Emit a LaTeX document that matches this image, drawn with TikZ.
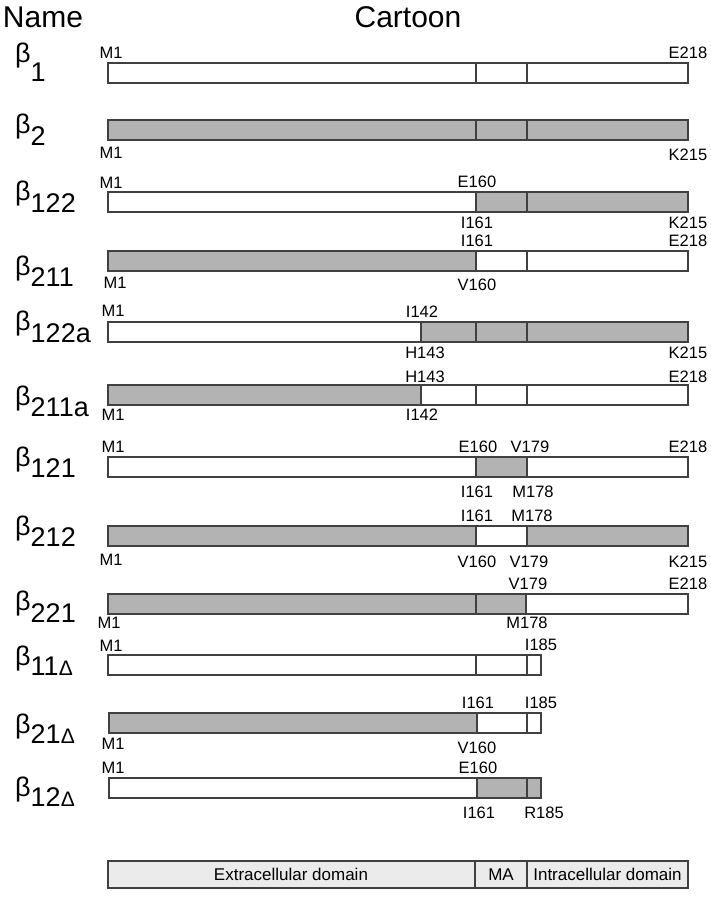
\documentclass[tikz,border=0pt]{standalone}
\usepackage{fontspec}
\setmainfont{Liberation Sans}
\definecolor{barg}{HTML}{B3B3B3}
\definecolor{legg}{HTML}{EBEBEB}
\definecolor{edgec}{HTML}{404040}
\tikzset{
  seg/.style={draw=edgec, line width=1.1pt},
  lab/.style={font=\fontsize{16.5}{18}\selectfont, inner sep=0pt, text=black},
  title/.style={font=\fontsize{30}{32}\selectfont, inner sep=0pt, anchor=base},
  nm/.style={font=\fontsize{27}{30}\selectfont, inner sep=0pt, anchor=base west},
  leg/.style={font=\fontsize{17}{19}\selectfont, inner sep=0pt}
}
\newcommand\sgW[3]{\filldraw[seg, fill=white] (#1,#3) rectangle (#2,#3+20);}
\newcommand\sgG[3]{\filldraw[seg, fill=barg] (#1,#3) rectangle (#2,#3+20);}
\newcommand\dl{{\fontsize{21}{22}\selectfont Δ}}
% name: id, beta baseline, drop of subscript, subscript
\newcommand\nmlab[4]{\node[nm] (#1) at (15,#2) {β\raisebox{-#3pt}{#4}};}
\begin{document}
\begin{tikzpicture}[x=1pt,y=-1pt]
\useasboundingbox (0,0) rectangle (710,899);

\node[title] (tname) at (43,28) {Name};
\node[title] (tcart) at (408,28) {Cartoon};

% beta1
\nmlab{n1}{63}{19}{1}
\sgW{108}{476}{63}\sgW{476}{527}{63}\sgW{527}{688}{63}
\node[lab] (a1) at (111,53) {M1};
\node[lab] (b1) at (688,53) {E218};

% beta2
\nmlab{n2}{133}{12}{2}
\sgG{108}{476}{120}\sgG{476}{527}{120}\sgG{527}{688}{120}
\node[lab] (a2) at (111,153) {M1};
\node[lab] (b2) at (688,155) {K215};

% beta122
\nmlab{n3}{200}{12}{122}
\sgW{108}{476}{192}\sgG{476}{527}{192}\sgG{527}{688}{192}
\node[lab] (a3) at (111,183) {M1};
\node[lab] (b3) at (477,182) {E160};
\node[lab] (c3) at (477,223) {I161};
\node[lab] (d3) at (688,223) {K215};

% beta211
\nmlab{n4}{275}{11}{211}
\sgG{108}{476}{251}\sgW{476}{527}{251}\sgW{527}{688}{251}
\node[lab] (a4) at (477,241) {I161};
\node[lab] (b4) at (688,241) {E218};
\node[lab] (c4) at (115,283) {M1};
\node[lab] (d4) at (477,285) {V160};

% beta122a
\nmlab{n5}{330}{12}{122a}
\sgW{108}{421}{322}\sgG{421}{476}{322}\sgG{476}{527}{322}\sgG{527}{688}{322}
\node[lab] (a5) at (113,311) {M1};
\node[lab] (b5) at (422,312) {I142};
\node[lab] (c5) at (425,353) {H143};
\node[lab] (d5) at (688,353) {K215};

% beta211a
\nmlab{n6}{405}{11}{211a}
\sgG{108}{421}{385}\sgW{421}{476}{385}\sgW{476}{527}{385}\sgW{527}{688}{385}
\node[lab] (a6) at (425,377) {H143};
\node[lab] (b6) at (688,377) {E218};
\node[lab] (c6) at (113,415) {M1};
\node[lab] (d6) at (422,415) {I142};

% beta121
\nmlab{n7}{466}{11}{121}
\sgW{108}{476}{457}\sgG{476}{527}{457}\sgW{527}{688}{457}
\node[lab] (a7) at (113,447) {M1};
\node[lab] (b7) at (478,447) {E160};
\node[lab] (c7) at (530,447) {V179};
\node[lab] (d7) at (688,447) {E218};
\node[lab] (e7) at (477,492) {I161};
\node[lab] (f7) at (533,492) {M178};

% beta212
\nmlab{n8}{535}{11}{212}
\sgG{108}{476}{526}\sgW{476}{527}{526}\sgG{527}{688}{526}
\node[lab] (a8) at (477,516) {I161};
\node[lab] (b8) at (532,516) {M178};
\node[lab] (c8) at (111,560) {M1};
\node[lab] (d8) at (477,562) {V160};
\node[lab] (e8) at (529,562) {V179};
\node[lab] (f8) at (688,562) {K215};

% beta221
\nmlab{n9}{610}{12}{221}
\sgG{108}{476}{594}\sgG{476}{526}{594}\sgW{526}{688}{594}
\node[lab] (a9) at (528,584) {V179};
\node[lab] (b9) at (688,584) {E218};
\node[lab] (c9) at (109,623) {M1};
\node[lab] (d9) at (527,623) {M178};

% beta11Delta
\nmlab{n10}{665}{10}{11\dl}
\sgW{108}{476}{655}\sgW{476}{527}{655}\sgW{527}{541}{655}
\node[lab] (a10) at (111,646) {M1};
\node[lab] (b10) at (541,645) {I185};

% beta21Delta
\nmlab{n11}{733}{10}{21\dl}
\sgG{109}{477}{713}\sgW{477}{527}{713}\sgW{527}{541}{713}
\node[lab] (a11) at (478,703) {I161};
\node[lab] (b11) at (541,703) {I185};
\node[lab] (c11) at (113,744) {M1};
\node[lab] (d11) at (477,748) {V160};

% beta12Delta
\nmlab{n12}{796}{10}{12\dl}
\sgW{109}{477}{778}\sgG{477}{527}{778}\sgG{527}{541}{778}
\node[lab] (a12) at (113,768) {M1};
\node[lab] (b12) at (478,768) {E160};
\node[lab] (c12) at (479,813) {I161};
\node[lab] (d12) at (544,813) {R185};

% legend
\filldraw[seg, fill=legg] (108,861) rectangle (475,888);
\filldraw[seg, fill=legg] (475,861) rectangle (527,888);
\filldraw[seg, fill=legg] (527,861) rectangle (688,888);
\node[leg] (l1) at (291,874.5) {Extracellular domain};
\node[leg] (l2) at (501,874.5) {MA};
\node[leg] (l3) at (607.5,874.5) {Intracellular domain};
\end{tikzpicture}
\end{document}
